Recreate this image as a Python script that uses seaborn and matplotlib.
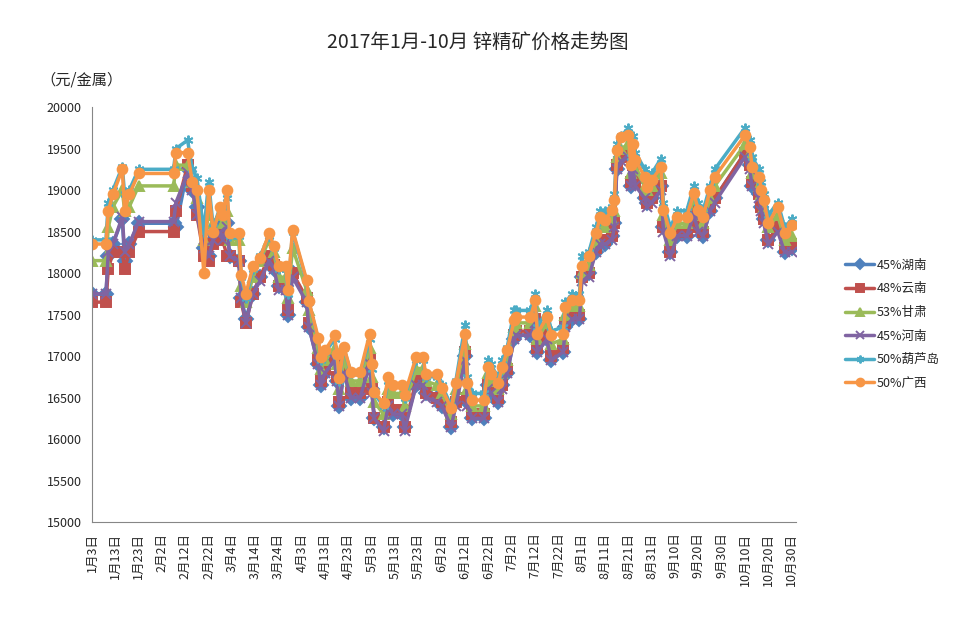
import pandas as pd
import matplotlib.pyplot as plt
import seaborn as sns

sns.set_style("white")
plt.rcParams['font.family'] = ['Noto Sans CJK SC', 'DejaVu Sans']

# dates of the readings (2017)
dates = ["01-03", "01-09", "01-10", "01-12", "01-16", "01-17", "01-19", "01-23",
         "02-07", "02-08", "02-13", "02-15", "02-17", "02-20", "02-22", "02-24", "02-27", "02-28",
         "03-02", "03-03", "03-07", "03-08", "03-10", "03-13", "03-16", "03-20", "03-22", "03-24", "03-27", "03-28", "03-30",
         "04-05", "04-06", "04-10", "04-11", "04-13", "04-17", "04-18", "04-19", "04-21", "04-24", "04-28",
         "05-02", "05-03", "05-04", "05-08", "05-10", "05-12", "05-16", "05-17", "05-22", "05-25", "05-26", "05-31",
         "06-02", "06-06", "06-08", "06-12", "06-13", "06-15", "06-20", "06-22", "06-23", "06-26", "06-28", "06-30",
         "07-03", "07-04", "07-10", "07-12", "07-13", "07-17", "07-19", "07-24", "07-25", "07-28", "07-31",
         "08-01", "08-04", "08-07", "08-09", "08-11", "08-14", "08-15", "08-16", "08-18", "08-21", "08-22", "08-23", "08-24", "08-28", "08-29", "08-31",
         "09-04", "09-05", "09-08", "09-11", "09-15", "09-18", "09-20", "09-22", "09-25", "09-27",
         "10-10", "10-12", "10-13", "10-16", "10-17", "10-18", "10-20", "10-24", "10-27", "10-30"]

hunan = [17750, 17750, 18200, 18350, 18650, 18150, 18350, 18600,
         18600, 18550, 19250, 19000, 18800, 18300, 18200, 18400, 18550, 18450,
         18600, 18200, 18150, 17700, 17450, 17750, 17950, 18150, 18050, 17850, 17850, 17500, 18000,
         17650, 17350, 16900, 16650, 16800, 16950, 16700, 16400, 16800, 16500, 16500,
         16900, 16600, 16250, 16150, 16400, 16300, 16300, 16150, 16650, 16650, 16550, 16500,
         16400, 16150, 16450, 17000, 16450, 16250, 16250, 16650, 16550, 16450, 16650, 16800,
         17200, 17250, 17250, 17400, 17050, 17200, 16950, 17050, 17350, 17450, 17450,
         17950, 18000, 18250, 18400, 18350, 18450, 18600, 19250, 19400, 19450, 19050, 19300, 19100, 18900, 18850, 18900,
         19050, 18550, 18250, 18450, 18450, 18750, 18550, 18450, 18750, 18900,
         19450, 19300, 19050, 18950, 18800, 18650, 18400, 18550, 18250, 18300]

yunnan = [17650, 17650, 18050, 18250, 18250, 18050, 18250, 18500,
          18500, 18750, 19300, 19050, 18700, 18200, 18150, 18350, 18500, 18400,
          18200, 18200, 18150, 17650, 17400, 17750, 17950, 18200, 18100, 17850, 17850, 17550, 18000,
          17700, 17400, 16950, 16700, 16850, 17000, 16750, 16450, 16850, 16550, 16550,
          16950, 16600, 16250, 16150, 16450, 16350, 16350, 16150, 16700, 16700, 16550, 16500,
          16450, 16200, 16450, 17050, 16500, 16300, 16300, 16650, 16600, 16500, 16650, 16850,
          17250, 17300, 17300, 17450, 17100, 17250, 17000, 17100, 17400, 17500, 17500,
          17950, 18000, 18300, 18400, 18400, 18450, 18600, 19300, 19400, 19450, 19100, 19300, 19100, 18950, 18850, 18900,
          19050, 18550, 18250, 18500, 18500, 18750, 18550, 18500, 18800, 18900,
          19450, 19300, 19100, 18950, 18800, 18650, 18400, 18550, 18300, 18350]

gansu = [18150, 18150, 18550, 18800, 19000, 18750, 18800, 19050,
         19050, 19300, 19300, 19100, 18900, 18400, 18700, 18600, 18700, 18600,
         18750, 18400, 18400, 17850, 17650, 17950, 18150, 18400, 18250, 17950, 17950, 17700, 18300,
         17800, 17550, 17100, 16850, 16950, 17100, 16900, 16600, 16950, 16700, 16700,
         17100, 16750, 16450, 16300, 16600, 16550, 16550, 16400, 16850, 16850, 16700, 16650,
         16550, 16300, 16600, 17150, 16600, 16400, 16400, 16800, 16700, 16600, 16800, 16950,
         17350, 17400, 17400, 17600, 17200, 17400, 17150, 17200, 17500, 17600, 17600,
         18000, 18100, 18400, 18550, 18550, 18650, 18750, 19400, 19500, 19550, 19200, 19450, 19250, 19050, 19000, 19050,
         19200, 18700, 18400, 18600, 18600, 18900, 18700, 18600, 18900, 19050,
         19550, 19450, 19200, 19050, 18950, 18800, 18550, 18700, 18400, 18450]

henan = [17750, 17750, 18250, 18350, 18680, 18250, 18350, 18620,
         18620, 18850, 19200, 19000, 18700, 18300, 18200, 18400, 18500, 18400,
         18550, 18200, 18150, 17700, 17400, 17750, 17900, 18150, 18050, 17800, 17800, 17500, 17950,
         17650, 17350, 16900, 16650, 16800, 16950, 16700, 16400, 16800, 16500, 16500,
         16900, 16550, 16250, 16100, 16400, 16300, 16300, 16100, 16650, 16650, 16500, 16450,
         16400, 16150, 16400, 16950, 16400, 16250, 16250, 16600, 16550, 16450, 16600, 16800,
         17200, 17250, 17250, 17400, 17050, 17200, 16950, 17050, 17350, 17450, 17450,
         17900, 17950, 18250, 18350, 18350, 18400, 18550, 19250, 19350, 19400, 19050, 19250, 19050, 18900, 18800, 18850,
         19000, 18500, 18200, 18450, 18450, 18700, 18500, 18450, 18750, 18850,
         19400, 19250, 19050, 18900, 18750, 18600, 18350, 18500, 18250, 18250]

huludao = [18400, 18400, 18850, 19000, 19280, 18950, 19000, 19250,
           19250, 19500, 19600, 19250, 19150, 18500, 19100, 18550, 18800, 18700,
           18900, 18450, 18450, 17950, 17700, 18050, 18200, 18450, 18300, 18050, 18050, 17750, 18500,
           17900, 17650, 17200, 16950, 17050, 17200, 17000, 16700, 17100, 16800, 16800,
           17200, 16850, 16550, 16400, 16700, 16650, 16650, 16500, 16950, 16950, 16750, 16750,
           16650, 16400, 16700, 17380, 16750, 16550, 16550, 16950, 16900, 16750, 16950, 17100,
           17550, 17550, 17550, 17750, 17350, 17550, 17300, 17350, 17650, 17750, 17750,
           18200, 18250, 18550, 18750, 18750, 18800, 18950, 19550, 19650, 19750, 19400, 19650, 19450, 19250, 19150, 19200,
           19380, 18850, 18550, 18750, 18750, 19050, 18850, 18750, 19050, 19250,
           19750, 19600, 19400, 19250, 19100, 18950, 18700, 18850, 18550, 18650]

guangxi = [18350, 18350, 18750, 18950, 19250, 18750, 18950, 19200,
           19200, 19450, 19450, 19100, 19000, 18000, 19000, 18500, 18800, 18700,
           19000, 18480, 18480, 17980, 17750, 18080, 18180, 18480, 18320, 18080, 18080, 17800, 18520,
           17920, 17660, 17220, 16990, 17070, 17250, 17030, 16730, 17110, 16810, 16810,
           17260, 16910, 16570, 16430, 16750, 16650, 16650, 16530, 16990, 16990, 16790, 16790,
           16610, 16370, 16670, 17270, 16670, 16470, 16470, 16870, 16790, 16670, 16870, 17070,
           17430, 17470, 17470, 17670, 17270, 17470, 17250, 17270, 17590, 17670, 17670,
           18080, 18200, 18480, 18680, 18640, 18760, 18880, 19480, 19640, 19660, 19300, 19560, 19360, 19160, 19040, 19120,
           19280, 18760, 18480, 18680, 18680, 18960, 18760, 18680, 19000, 19160,
           19660, 19520, 19280, 19160, 19000, 18880, 18600, 18800, 18480, 18580]

names = ["45%湖南", "48%云南", "53%甘肃", "45%河南", "50%葫芦岛", "50%广西"]
series = [hunan, yunnan, gansu, henan, huludao, guangxi]
colors = ["#4F81BD", "#C0504D", "#9BBB59", "#8064A2", "#4BACC6", "#F79646"]
markers = ["D", "s", "^", "x", (6, 2, 0), "o"]

x = pd.to_datetime(["2017-" + d for d in dates])

fig = plt.figure(figsize=(9.61, 6.26), dpi=100)
ax = fig.add_axes([0.0957, 0.166, 0.733, 0.663])

for name, vals, color, mk in zip(names, series, colors, markers):
    df = pd.DataFrame({"date": x, "price": vals})
    sns.lineplot(data=df, x="date", y="price", color=color, marker=mk,
                 markersize=7, markeredgecolor=color, markeredgewidth=1.4,
                 linewidth=2.5, label=name, ax=ax)

# axes
ax.set_ylim(15000, 20000)
ax.set_yticks(range(15000, 20001, 500))
ax.set_xlim(pd.Timestamp("2017-01-03"), pd.Timestamp("2017-11-01"))
ticks = pd.date_range("2017-01-03", "2017-10-30", freq="10D")
ax.set_xticks(ticks)
ax.set_xticklabels([f"{d.month}月{d.day}日" for d in ticks], rotation=90, fontsize=9)
ax.tick_params(axis="y", labelsize=9)
ax.tick_params(direction="out", length=4, color="#868686", width=0.8)
ax.set_xlabel("")
ax.set_ylabel("")
for s in ["top", "right"]:
    ax.spines[s].set_visible(False)
for s in ["left", "bottom"]:
    ax.spines[s].set_color("#868686")
    ax.spines[s].set_linewidth(0.8)

ax.legend(loc="center left", bbox_to_anchor=(0.868, 0.482), bbox_transform=fig.transFigure,
          frameon=False, fontsize=9, handlelength=2.3, handletextpad=0.2, labelspacing=0.85,
          markerscale=0.8)

fig.text(0.497, 0.933, "2017年1月-10月 锌精矿价格走势图", ha="center", va="center", fontsize=14)
fig.text(0.042, 0.872, "（元/金属）", ha="left", va="center", fontsize=11)

plt.savefig("out.png", dpi=100)
